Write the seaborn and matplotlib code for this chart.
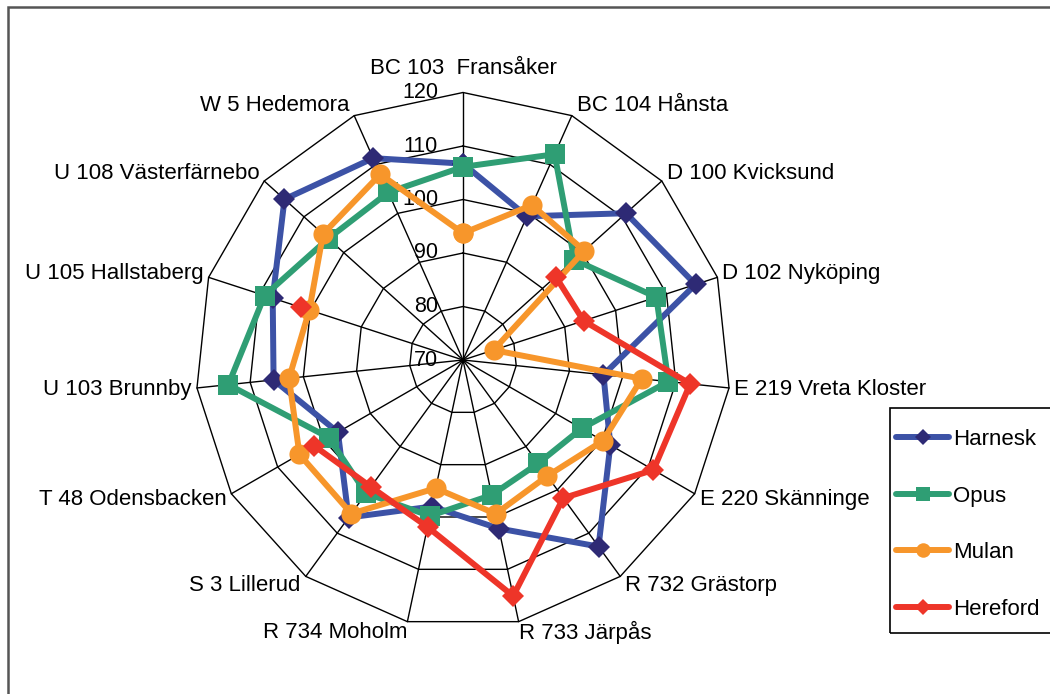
import numpy as np
import matplotlib
matplotlib.use("Agg")
import matplotlib.pyplot as plt
import matplotlib.transforms as mtransforms
from matplotlib.lines import Line2D
from matplotlib.patches import Rectangle
import seaborn as sns

categories = ["BC 103  Fransåker", "BC 104 Hånsta", "D 100 Kvicksund", "D 102 Nyköping",
              "E 219 Vreta Kloster", "E 220 Skänninge", "R 732 Grästorp", "R 733 Järpås",
              "R 734 Moholm", "S 3 Lillerud", "T 48 Odensbacken", "U 103 Brunnby",
              "U 105 Hallstaberg", "U 108 Västerfärnebo", "W 5 Hedemora"]

harnesk = [106.7, 99.4, 111.0, 115.7, 96.4, 101.8, 113.1, 102.2, 98.0, 106.4, 97.0, 105.6, 107.4, 114.9, 111.3]
opus = [106.1, 112.1, 98.0, 108.0, 108.6, 95.6, 93.9, 95.8, 99.8, 100.8, 99.0, 114.1, 109.0, 103.9, 104.3]
mulan = [93.7, 101.7, 100.5, 76.0, 103.6, 100.2, 96.8, 99.4, 94.5, 105.5, 105.3, 102.7, 100.2, 105.2, 108.0]
hereford = [np.nan, np.nan, 93.3, 93.7, 112.7, 111.1, 101.9, 115.1, 101.9, 99.3, 102.1, np.nan, 101.8, np.nan, np.nan]

series_names = ["Harnesk", "Opus", "Mulan", "Hereford"]
ticks = [70, 80, 90, 100, 110, 120]

sns.set_theme(style="white")
plt.rcParams['font.family'] = ['Liberation Sans', 'DejaVu Sans']

# line colour, marker colour, marker, size
styles = {
    "Harnesk": ("#3C52A6", "#2E2A75", "D", 11.5),
    "Opus": ("#2F9E74", "#2F9E74", "s", 14),
    "Mulan": ("#F7962B", "#F7962B", "o", 14.5),
    "Hereford": ("#EE3529", "#EE3529", "D", 11.5),
}

fig = plt.figure(figsize=(10.5, 6.94), dpi=100)
W, H = 1050, 694
cx, cy, R = 463, 360, 267.5
ax = fig.add_axes([(cx - R) / W, (H - cy - R) / H, 2 * R / W, 2 * R / H], projection='polar')
ax.set_theta_zero_location('N')
ax.set_theta_direction(-1)
ax.set_ylim(ticks[0], ticks[-1])
ax.axis('off')

n = len(categories)
theta = np.arange(n) * 2 * np.pi / n
theta_closed = np.append(theta, theta[0])

# polygon grid and spokes
for t in ticks[1:]:
    ax.plot(theta_closed, [t] * (n + 1), color='black', lw=1.0, clip_on=False, zorder=1)
for th in theta:
    ax.plot([th, th], [ticks[0], ticks[-1]], color='black', lw=1.0, clip_on=False, zorder=1)

# radial tick labels left of the top spoke
lab_tr = mtransforms.offset_copy(ax.transData, fig=fig, x=-25, y=0, units='dots')
for t in ticks:
    ax.text(0, t, str(t), transform=lab_tr, ha='right', va='center', fontsize=15.5, color='black')

# category labels, placed just outside the outer ring
for i, (th, name) in enumerate(zip(theta, categories)):
    s, c = np.sin(th), np.cos(th)
    ha = 'center' if abs(s) < 0.01 else ('left' if s > 0 else 'right')
    dx = 5 * np.sign(s) if abs(s) > 0.3 else 0
    dy = 23.5 if i == 0 else 11 * c
    tr = mtransforms.offset_copy(ax.transData, fig=fig, x=dx, y=dy, units='dots')
    ax.text(th, ticks[-1], name, transform=tr, ha=ha, va='center', fontsize=16, color='black')

# data series
handles = []
for name, vals in zip(series_names, [harnesk, opus, mulan, hereford]):
    lc, mc, mk, ms = styles[name]
    v = np.append(vals, vals[0])
    ax.plot(theta_closed, v, color=lc, lw=4.3, marker=mk, markersize=ms,
            markerfacecolor=mc, markeredgecolor=mc, markeredgewidth=0, clip_on=False, zorder=3)
    handles.append(Line2D([], [], color=lc, lw=4.3, marker=mk, markersize=ms * 0.72,
                          markerfacecolor=mc, markeredgecolor=mc, markeredgewidth=0))

leg = fig.legend(handles, series_names, loc='upper left', bbox_to_anchor=(896 / W, (H - 429) / H),
                 fontsize=16, frameon=False, handlelength=2.4, handletextpad=0.18,
                 labelspacing=1.6, borderpad=0, borderaxespad=0, labelcolor='black')

# legend box (runs off the right edge like the original)
fig.patches.append(Rectangle((890 / W, (H - 633) / H), 0.3, 225 / H, transform=fig.transFigure,
                             fill=False, edgecolor='black', lw=1.2))

# outer chart border (cut at the right and bottom)
fig.patches.append(Rectangle((7.5 / W, -0.05), 1.2, (H - 6.5) / H + 0.05, transform=fig.transFigure,
                             fill=False, edgecolor='#555555', lw=1.8))

fig.savefig("out.png", dpi=100, facecolor='white')
